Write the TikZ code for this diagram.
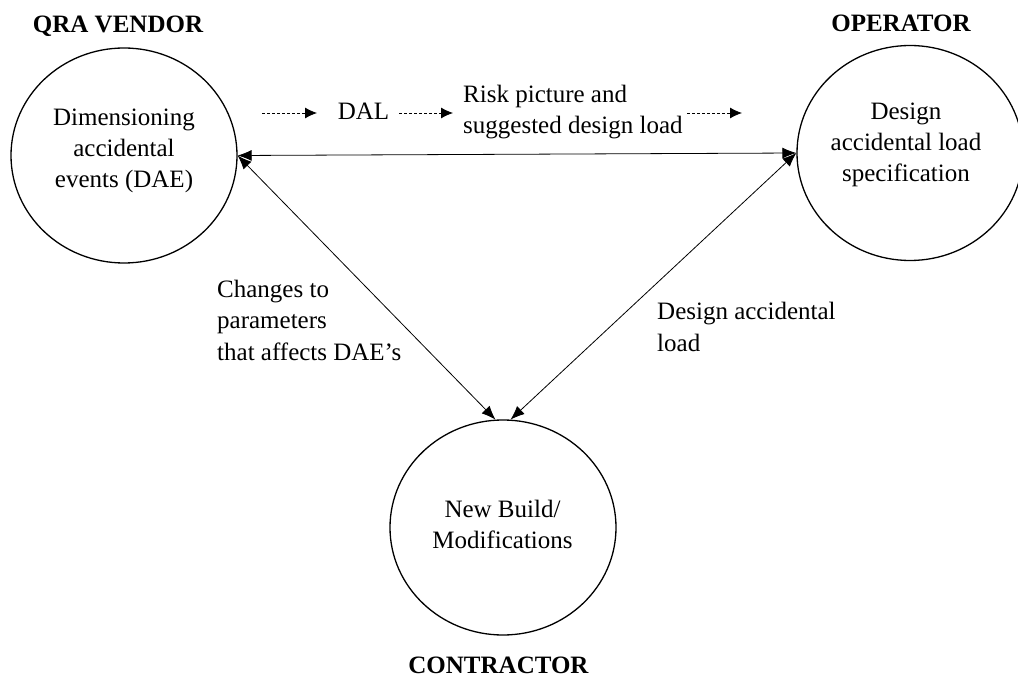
\documentclass[tikz,border=0pt]{standalone}
\usepackage{fontspec}
\setmainfont{Liberation Serif}
\usetikzlibrary{arrows.meta,shapes.geometric}

\begin{document}
\begin{tikzpicture}[x=1pt,y=-1pt,
  party/.style={ellipse,draw,line width=1.3pt,minimum width=226pt,minimum height=215pt,inner sep=0pt},
  body/.style={font=\fontsize{25}{31}\selectfont,align=center,inner sep=0pt},
  note/.style={font=\fontsize{25}{31.5}\selectfont,align=left,inner sep=0pt,anchor=west},
  role/.style={font=\fontsize{25}{31}\selectfont\bfseries,inner sep=0pt,anchor=base},
  link/.style={line width=0.8pt,{Latex[length=14pt,width=11pt]}-{Latex[length=14pt,width=11pt]}},
  flow/.style={line width=0.8pt,dash pattern=on 3pt off 2pt,-{Latex[length=12pt,width=11pt]}}]
\useasboundingbox (0,0) rectangle (1018,679);

% the three parties
\node[party] (dae) at (124,155.5) {};
\node[party] (op)  at (910,153) {};
\node[party] (nb)  at (503,527.5) {};

\node[body] (daetext) at (124,151) {Dimensioning\\accidental\\events (DAE)};
\node[body] (optext)  at (906,144.5) {Design\\accidental load\\specification};
\node[body] (nbtext)  at (502.5,524) {New Build/\\Modifications};

% role headings
\node[role] (vendor)     at (118,33)  {QRA VENDOR};
\node[role] (operator)   at (901,32)  {OPERATOR};
\node[role] (contractor) at (498.5,673) {CONTRACTOR};

% information flow along the top
\node[font=\fontsize{25}{31}\selectfont,inner sep=0pt,anchor=base] (dal) at (363.5,120) {DAL};
\node[note] (risk) at (463,112) {Risk picture and\\suggested design load};

\coordinate (f1s) at (262,113);
\coordinate (f1e) at (317,113);
\coordinate (f2s) at (399,113);
\coordinate (f2e) at (453,113);
\coordinate (f3s) at (687,113);
\coordinate (f3e) at (742,113);
\draw[flow] (f1s) -- (f1e);
\draw[flow] (f2s) -- (f2e);
\draw[flow] (f3s) -- (f3e);

% two-way links between the parties
\draw[link] (dae.east) -- (op.west);
\draw[link] (dae.east) -- (nb.94);
\draw[link] (op.west) -- (nb.86);

\node[note] (chg) at (217,320) {Changes to\\parameters\\that affects DAE’s};
\node[note] (dal2) at (657,327) {Design accidental\\load};
\end{tikzpicture}
\end{document}
